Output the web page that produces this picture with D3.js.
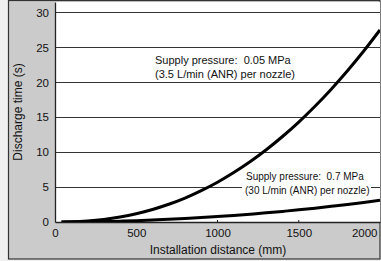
<!DOCTYPE html>
<html>
<head>
<meta charset="utf-8">
<script src="https://cdn.jsdelivr.net/npm/d3@7"></script>
<style>
  body { margin: 0; background: #f0f0f0; }
  text { font-family: "Liberation Sans", Arial, Helvetica, sans-serif; fill: #111; white-space: pre; }
</style>
</head>
<body>
<div id="chart"></div>
<script>
// installation distance (mm)
var distance = [40, 100, 200, 300, 400, 500, 600, 700, 800, 900, 1000,
                1100, 1200, 1300, 1400, 1500, 1600, 1700, 1800, 1900, 2000];
// discharge time (s) at 0.05 MPa, 3.5 L/min per nozzle
var lowPressure = [0, 0.03, 0.15, 0.37, 0.71, 1.18, 1.79, 2.54, 3.43, 4.49, 5.7,
                   7.08, 8.62, 10.34, 12.24, 14.31, 16.57, 19.02, 21.65, 24.48, 27.5];
// discharge time (s) at 0.7 MPa, 30 L/min per nozzle
var highPressure = [0, 0.01, 0.03, 0.07, 0.12, 0.19, 0.28, 0.38, 0.5, 0.63, 0.78,
                    0.94, 1.12, 1.31, 1.52, 1.74, 1.98, 2.24, 2.51, 2.8, 3.1];
var xTicks = [0, 500, 1000, 1500, 2000];
var yTicks = [0, 5, 10, 15, 20, 25, 30];

var W = 381, H = 261;
var plot = {left: 55, right: 380, top: 2, bottom: 222};

var svg = d3.select("#chart").append("svg")
    .attr("width", W)
    .attr("height", H);

// gray frame
svg.append("rect")
    .attr("x", 8.5).attr("y", 0.5)
    .attr("width", 371.5).attr("height", 258.5)
    .attr("fill", "#cbcbcb")
    .attr("stroke", "#333")
    .attr("stroke-width", 1.2);

var x = d3.scaleLinear().domain([0, 2000]).range([plot.left, plot.right]);
var y = d3.scaleLinear().domain([0, 31.5]).range([plot.bottom, plot.top]);

// white plotting area
svg.append("rect")
    .attr("x", plot.left).attr("y", plot.top)
    .attr("width", plot.right - plot.left).attr("height", plot.bottom - plot.top)
    .attr("fill", "#fff");

// horizontal grid lines
svg.append("g").selectAll("line")
    .data(yTicks.filter(function(d){ return d > 0; }))
    .enter().append("line")
    .attr("x1", plot.left).attr("x2", plot.right)
    .attr("y1", function(d){ return Math.round(y(d)) + 0.5; })
    .attr("y2", function(d){ return Math.round(y(d)) + 0.5; })
    .attr("stroke", "#333")
    .attr("stroke-width", 1);

// y axis
var yAxis = d3.axisLeft(y).tickValues(yTicks).tickSize(0).tickPadding(6);
var gy = svg.append("g").attr("transform", "translate(" + plot.left + ",0)").call(yAxis);
gy.select(".domain").attr("stroke", "#222").attr("stroke-width", 1.3);
gy.selectAll("text").style("font-size", "11.5px").attr("fill", "#111");

// x axis
var xAxis = d3.axisBottom(x).tickValues(xTicks).tickFormat(d3.format("d"))
    .tickSize(0).tickPadding(7);
var gx = svg.append("g").attr("transform", "translate(0," + plot.bottom + ")").call(xAxis);
gx.select(".domain").attr("stroke", "#222").attr("stroke-width", 1.3);
gx.selectAll("text").style("font-size", "11.5px").attr("fill", "#111");
gx.selectAll(".tick text").filter(function(d){ return d === 2000; })
    .attr("text-anchor", "end").attr("dx", -3);
// small inner tick marks
svg.append("g").selectAll("line")
    .data(xTicks.filter(function(d){ return d > 0 && d < 2000; }))
    .enter().append("line")
    .attr("x1", function(d){ return x(d); }).attr("x2", function(d){ return x(d); })
    .attr("y1", plot.bottom).attr("y2", plot.bottom - 2)
    .attr("stroke", "#222");

// curves
var line = d3.line()
    .x(function(d){ return x(d[0]); })
    .y(function(d){ return y(d[1]); })
    .curve(d3.curveMonotoneX);

svg.append("clipPath").attr("id", "clip").append("rect")
    .attr("x", plot.left).attr("y", plot.top)
    .attr("width", plot.right - plot.left).attr("height", plot.bottom - plot.top);

svg.append("path")
    .attr("d", line(d3.zip(distance, lowPressure)))
    .attr("fill", "none").attr("stroke", "#000").attr("stroke-width", 3)
    .attr("clip-path", "url(#clip)");

// label for 0.7 MPa (background cuts the grid line)
svg.append("rect")
    .attr("x", 242).attr("y", 183).attr("width", 129).attr("height", 13)
    .attr("fill", "#fff");
svg.append("text").attr("x", 246).attr("y", 180)
    .style("font-size", "10px").text("Supply pressure:  0.7 MPa");
svg.append("text").attr("x", 245).attr("y", 194)
    .style("font-size", "10px").text("(30 L/min (ANR) per nozzle)");

svg.append("path")
    .attr("d", line(d3.zip(distance, highPressure)))
    .attr("fill", "none").attr("stroke", "#000").attr("stroke-width", 3)
    .attr("clip-path", "url(#clip)");

// label for 0.05 MPa
svg.append("text").attr("x", 155).attr("y", 64)
    .style("font-size", "11px").text("Supply pressure:  0.05 MPa");
svg.append("text").attr("x", 155).attr("y", 78)
    .style("font-size", "11px").text("(3.5 L/min (ANR) per nozzle)");

// axis titles
svg.append("text")
    .attr("transform", "translate(22," + ((plot.top + plot.bottom) / 2) + ") rotate(-90)")
    .attr("text-anchor", "middle")
    .style("font-size", "12px")
    .text("Discharge time (s)");

svg.append("text")
    .attr("x", 218).attr("y", 254)
    .attr("text-anchor", "middle")
    .style("font-size", "12px")
    .text("Installation distance (mm)");
</script>
</body>
</html>
